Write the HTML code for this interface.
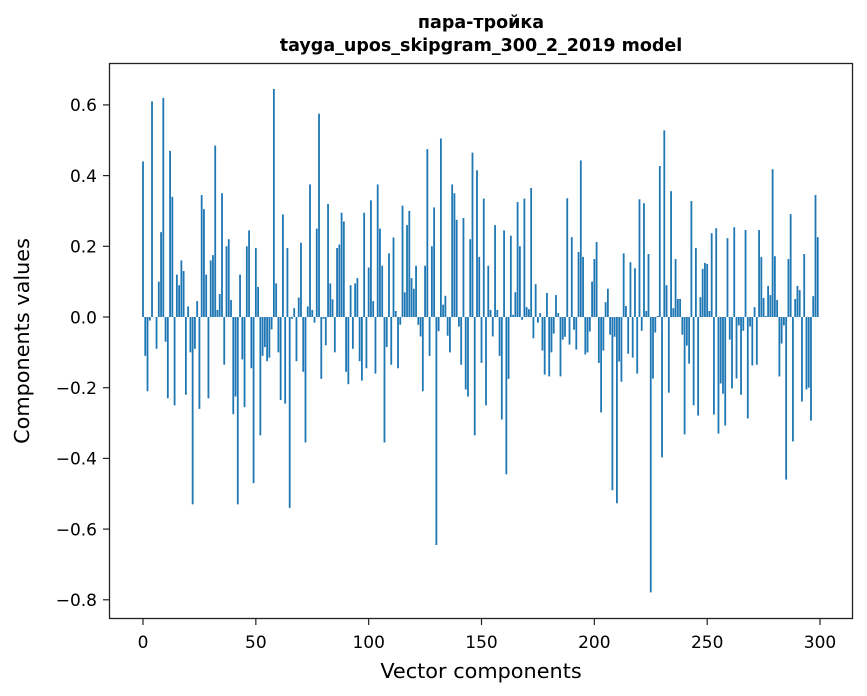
<!DOCTYPE html>
<html><head><meta charset="utf-8"><style>
html,body{margin:0;padding:0;background:#fff;}
svg{display:block;font-family:"DejaVu Sans","Liberation Sans",sans-serif;}
</style></head><body>
<svg id="chart" width="867" height="696" viewBox="0 0 867 696" xmlns="http://www.w3.org/2000/svg">
<rect x="0" y="0" width="867" height="696" fill="#fff"/>
<text x="481" y="28" text-anchor="middle" font-size="17.5" font-weight="bold">пара-тройка</text>
<text x="481" y="51" text-anchor="middle" font-size="17.5" font-weight="bold">tayga_upos_skipgram_300_2_2019 model</text>
<g id="bars"></g>
<rect x="109.5" y="63.5" width="743" height="555" fill="none" stroke="#222" stroke-width="1.3"/>
<g id="xticks"></g>
<g id="yticks"></g>
<text x="481" y="678" text-anchor="middle" font-size="20.8">Vector components</text>
<text transform="translate(29,341) rotate(-90)" text-anchor="middle" font-size="20.8">Components values</text>
</svg>
<script>
const components = Array.from({length:300},(_,i)=>i);
const values = [
0.44,-0.11,-0.21,-0.01,0.61,0.0,-0.09,0.10,0.24,0.62,
-0.07,-0.23,0.47,0.34,-0.25,0.12,0.09,0.16,0.13,-0.22,
0.03,-0.10,-0.53,-0.09,0.045,-0.26,0.345,0.305,0.12,-0.23,
0.16,0.175,0.485,0.02,0.065,0.35,-0.135,0.20,0.22,0.048,
-0.275,-0.225,-0.53,0.12,-0.12,-0.255,0.20,0.245,-0.145,-0.47,
0.195,0.085,-0.335,-0.11,-0.085,-0.125,-0.115,-0.035,0.645,0.095,
-0.10,-0.235,0.29,-0.245,0.195,-0.54,-0.005,0.025,-0.125,0.055,
0.21,-0.155,-0.355,0.03,0.375,0.02,-0.016,0.25,0.575,-0.175,
-0.005,-0.08,0.32,0.095,0.05,-0.10,0.195,0.205,0.295,0.27,
-0.155,-0.19,0.09,-0.09,0.095,0.11,-0.125,-0.18,0.295,-0.145,
0.14,0.33,0.045,-0.16,0.375,0.25,0.145,-0.355,-0.085,0.18,
-0.135,0.225,0.017,-0.145,-0.022,0.315,0.07,0.26,0.30,0.11,
0.08,0.145,-0.022,-0.055,-0.21,0.145,0.475,-0.11,0.20,0.31,
-0.645,-0.04,0.505,0.035,0.06,-0.053,-0.10,0.375,0.35,0.275,
-0.027,-0.135,0.28,-0.205,-0.225,0.22,0.465,-0.335,0.415,0.17,
-0.13,0.335,-0.25,0.145,0.02,-0.055,0.26,0.02,-0.11,-0.29,
0.245,-0.445,-0.175,0.23,0.006,0.07,0.325,0.20,-0.008,0.335,
0.028,0.022,0.365,-0.06,0.093,-0.016,0.011,-0.095,-0.163,0.068,
-0.168,-0.10,-0.047,0.062,0.011,-0.168,-0.064,-0.056,0.336,-0.078,
0.226,-0.036,-0.092,0.184,0.443,0.17,-0.106,-0.10,-0.041,0.10,
0.164,0.212,-0.13,-0.27,-0.095,0.042,0.08,-0.05,-0.49,-0.056,
-0.527,-0.126,-0.183,0.18,0.031,-0.104,0.155,-0.115,0.138,-0.16,
0.333,-0.039,0.322,0.017,0.178,-0.779,-0.174,-0.044,0.003,0.427,
-0.397,0.528,0.09,-0.214,0.356,0.025,0.164,0.051,0.051,-0.05,
-0.332,-0.081,-0.132,0.328,-0.25,0.195,-0.279,0.056,0.136,0.153,
0.15,0.017,0.237,-0.276,0.251,-0.33,-0.188,-0.217,-0.307,0.223,
-0.064,-0.202,0.254,-0.174,-0.024,-0.22,-0.039,0.246,-0.287,-0.027,
-0.137,0.028,-0.135,0.246,0.17,0.054,0.003,0.088,0.062,0.418,
0.172,0.048,-0.168,-0.075,-0.024,-0.46,0.164,0.291,-0.352,0.051,
0.088,0.076,-0.239,0.178,-0.205,-0.2,-0.293,0.059,0.345,0.226
];
const xTickValues = [0,50,100,150,200,250,300];
const xTickLabels = ["0","50","100","150","200","250","300"];
const yTickValues = [-0.8,-0.6,-0.4,-0.2,0,0.2,0.4,0.6];
const yTickLabels = ["\u22120.8","\u22120.6","\u22120.4","\u22120.2","0.0","0.2","0.4","0.6"];

const NS="http://www.w3.org/2000/svg";
function xScale(v){return 143 + v*2.2567;}
function yScale(v){return 317 - v*353.5;}
const barsG=document.getElementById('bars');
components.forEach((c,i)=>{
  const v=values[i];
  const r=document.createElementNS(NS,'rect');
  
  
  const y0=yScale(0), y1=yScale(v);
  r.setAttribute('x',xScale(c)-0.9);
  r.setAttribute('width',1.8);
  r.setAttribute('y',Math.min(y0,y1));
  r.setAttribute('height',Math.max(Math.abs(y1-y0),0.3));
  r.setAttribute('fill','#1f77b4');
  barsG.appendChild(r);
});
const xg=document.getElementById('xticks');
xTickValues.forEach((t,i)=>{
  const x=xScale(t);
  const l=document.createElementNS(NS,'line');
  
  
  l.setAttribute('x1',x);l.setAttribute('x2',x);l.setAttribute('y1',619);l.setAttribute('y2',625);
  l.setAttribute('stroke','#222');l.setAttribute('stroke-width',1.2);
  xg.appendChild(l);
  const tx=document.createElementNS(NS,'text');
  
  
  tx.setAttribute('x',x);tx.setAttribute('y',648);tx.setAttribute('text-anchor','middle');tx.setAttribute('font-size','17');
  tx.textContent=xTickLabels[i];
  xg.appendChild(tx);
});
const yg=document.getElementById('yticks');
yTickValues.forEach((t,i)=>{
  const y=yScale(t);
  const l=document.createElementNS(NS,'line');
  
  
  l.setAttribute('x1',103);l.setAttribute('x2',109);l.setAttribute('y1',y);l.setAttribute('y2',y);
  l.setAttribute('stroke','#222');l.setAttribute('stroke-width',1.2);
  yg.appendChild(l);
  const tx=document.createElementNS(NS,'text');
  
  
  tx.setAttribute('x',97);tx.setAttribute('y',y+6.3);tx.setAttribute('text-anchor','end');tx.setAttribute('font-size','17');
  tx.textContent=yTickLabels[i];
  yg.appendChild(tx);
});
</script>
</body></html>
